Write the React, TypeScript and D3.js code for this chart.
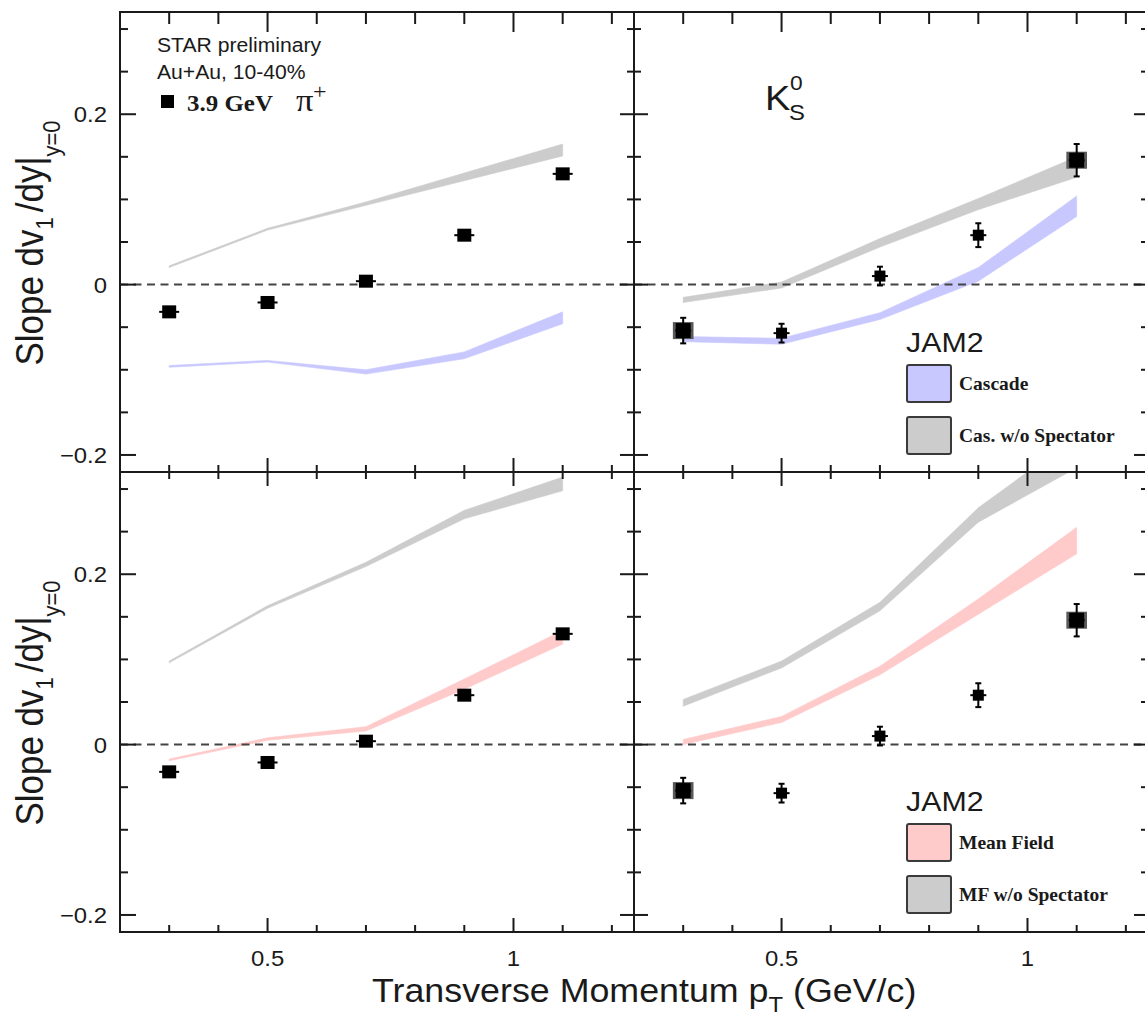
import React from "react";
import * as d3 from "d3";

// Transverse-momentum bin centres (GeV/c)
const pT = [0.3, 0.5, 0.7, 0.9, 1.1];

// Measured slopes dv1/dy at mid-rapidity
const piPlusV1 = [-0.032, -0.021, 0.004, 0.058, 0.13];
const piPlusErr = [0.002, 0.002, 0.002, 0.002, 0.002];
const k0sV1 = [-0.054, -0.057, 0.01, 0.058, 0.146];
const k0sErr = [0.015, 0.011, 0.011, 0.014, 0.019];
const k0sSys = [0.01, 0, 0, 0, 0.01];

// JAM2 model bands (lower / upper edge)
const piCascadeLo = [-0.097, -0.091, -0.105, -0.087, -0.046];
const piCascadeHi = [-0.095, -0.089, -0.1, -0.079, -0.032];
const piCasNoSpecLo = [0.02, 0.064, 0.093, 0.122, 0.151];
const piCasNoSpecHi = [0.022, 0.066, 0.097, 0.131, 0.165];
const k0CascadeLo = [-0.067, -0.07, -0.041, 0.004, 0.08];
const k0CascadeHi = [-0.061, -0.063, -0.033, 0.02, 0.104];
const k0CasNoSpecLo = [-0.021, -0.004, 0.044, 0.088, 0.126];
const k0CasNoSpecHi = [-0.015, 0.003, 0.054, 0.101, 0.15];
const piMeanFieldLo = [-0.019, 0.005, 0.016, 0.065, 0.118];
const piMeanFieldHi = [-0.017, 0.008, 0.021, 0.077, 0.134];
const piMfNoSpecLo = [0.096, 0.16, 0.209, 0.265, 0.298];
const piMfNoSpecHi = [0.098, 0.163, 0.214, 0.275, 0.314];
const k0MeanFieldLo = [0.0, 0.026, 0.082, 0.153, 0.224];
const k0MeanFieldHi = [0.006, 0.033, 0.092, 0.171, 0.255];
const k0MfNoSpecLo = [0.045, 0.09, 0.157, 0.261, 0.325];
const k0MfNoSpecHi = [0.053, 0.098, 0.167, 0.278, 0.362];

// Axes
const xDomain = [0.2, 1.245];
const yDomain = [-0.22, 0.32];
const xTickValues = d3.range(3, 13).map((v) => v / 10);
const xMajorTicks = [0.5, 1.0];
const xTickLabels = ["0.5", "1"];
const yTickValues = d3.range(-4, 7).map((v) => v * 0.05);
const yMajorTicks = [-0.2, 0, 0.2];
const yTickLabels = ["\u22120.2", "0", "0.2"];

// Legend entries
const cascadeLegend = ["Cascade", "Cas. w/o Spectator"];
const meanFieldLegend = ["Mean Field", "MF w/o Spectator"];

const BLUE = "#c8c8ff";
const GREY = "#cccccc";
const PINK = "#ffcaca";
const INK = "#1a1a1a";
const SANS = "'Liberation Sans', Arial, Helvetica, sans-serif";
const SERIF = "'Liberation Serif', 'Times New Roman', serif";
const SX = 1.085; // horizontal text stretch

type Band = { lo: number[]; hi: number[]; fill: string };
type Panel = {
  id: string;
  x0: number;
  x1: number;
  y0: number;
  y1: number;
  bands: Band[];
  species: "pi" | "k0";
  yLabels: boolean;
  xLabels: boolean;
  topRow: boolean;
};

const LEFT = [120, 634];
const RIGHT = [634, 1148];
const TOP = [12, 472];
const BOTTOM = [472, 932];

const panels: Panel[] = [
  {
    id: "tl", x0: LEFT[0], x1: LEFT[1], y0: TOP[0], y1: TOP[1],
    bands: [
      { lo: piCasNoSpecLo, hi: piCasNoSpecHi, fill: GREY },
      { lo: piCascadeLo, hi: piCascadeHi, fill: BLUE },
    ],
    species: "pi", yLabels: true, xLabels: false, topRow: true,
  },
  {
    id: "tr", x0: RIGHT[0], x1: RIGHT[1], y0: TOP[0], y1: TOP[1],
    bands: [
      { lo: k0CasNoSpecLo, hi: k0CasNoSpecHi, fill: GREY },
      { lo: k0CascadeLo, hi: k0CascadeHi, fill: BLUE },
    ],
    species: "k0", yLabels: false, xLabels: false, topRow: true,
  },
  {
    id: "bl", x0: LEFT[0], x1: LEFT[1], y0: BOTTOM[0], y1: BOTTOM[1],
    bands: [
      { lo: piMfNoSpecLo, hi: piMfNoSpecHi, fill: GREY },
      { lo: piMeanFieldLo, hi: piMeanFieldHi, fill: PINK },
    ],
    species: "pi", yLabels: true, xLabels: true, topRow: false,
  },
  {
    id: "br", x0: RIGHT[0], x1: RIGHT[1], y0: BOTTOM[0], y1: BOTTOM[1],
    bands: [
      { lo: k0MfNoSpecLo, hi: k0MfNoSpecHi, fill: GREY },
      { lo: k0MeanFieldLo, hi: k0MeanFieldHi, fill: PINK },
    ],
    species: "k0", yLabels: false, xLabels: true, topRow: false,
  },
];

const near = (a: number, b: number) => Math.abs(a - b) < 1e-6;

function STxt(props: {
  x: number; y: number; size: number; family?: string; weight?: string | number;
  anchor?: string; children: React.ReactNode;
}) {
  const { x, y, size, family = SANS, weight = "normal", anchor = "start", children } = props;
  return (
    <text
      transform={`translate(${x},${y}) scale(${SX},1)`}
      fontSize={size}
      fontFamily={family}
      fontWeight={weight}
      textAnchor={anchor}
      fill={INK}
    >
      {children}
    </text>
  );
}

function PanelView({ p }: { p: Panel }) {
  const xS = d3.scaleLinear().domain(xDomain).range([p.x0, p.x1]);
  const yS = d3.scaleLinear().domain(yDomain).range([p.y1, p.y0]);
  const area = (b: Band) =>
    d3
      .area<number>()
      .x((d) => xS(d))
      .y0((_, i) => yS(b.lo[i]))
      .y1((_, i) => yS(b.hi[i]))(pT) || "";

  const values = p.species === "pi" ? piPlusV1 : k0sV1;
  const errs = p.species === "pi" ? piPlusErr : k0sErr;

  const ticks: React.ReactNode[] = [];
  xTickValues.forEach((v, i) => {
    const major = xMajorTicks.some((m) => near(m, v));
    const x = xS(v);
    const lb = major ? 14 : 7;
    const lt = p.topRow ? (major ? 20 : 12) : lb;
    ticks.push(<line key={`xb${i}`} x1={x} x2={x} y1={p.y1} y2={p.y1 - lb} />);
    ticks.push(<line key={`xt${i}`} x1={x} x2={x} y1={p.y0} y2={p.y0 + lt} />);
  });
  yTickValues.forEach((v, i) => {
    const major = yMajorTicks.some((m) => near(m, v));
    const y = yS(v);
    const ll = p.yLabels ? (major ? 16 : 8) : major ? 14 : 7;
    const lr = major ? 14 : 7;
    ticks.push(<line key={`yl${i}`} x1={p.x0} x2={p.x0 + ll} y1={y} y2={y} />);
    ticks.push(<line key={`yr${i}`} x1={p.x1} x2={p.x1 - lr} y1={y} y2={y} />);
  });

  return (
    <g>
      <defs>
        <clipPath id={`clip-${p.id}`}>
          <rect x={p.x0} y={p.y0} width={p.x1 - p.x0} height={p.y1 - p.y0} />
        </clipPath>
      </defs>
      <g clipPath={`url(#clip-${p.id})`}>
        {p.bands.map((b, i) => (
          <path key={i} d={area(b)} fill={b.fill} stroke={b.fill} strokeWidth={0.6} />
        ))}
        <line
          x1={p.x0}
          x2={p.x1}
          y1={yS(0)}
          y2={yS(0)}
          stroke="#444"
          strokeWidth={2}
          strokeDasharray="8,5.5"
        />
        {pT.map((pt, i) => {
          const x = xS(pt);
          const y = yS(values[i]);
          if (p.species === "pi") {
            return (
              <g key={i} stroke="#000" strokeWidth={2}>
                <line x1={x - 10} x2={x + 10} y1={y} y2={y} />
                <line x1={x} x2={x} y1={yS(values[i] + errs[i])} y2={yS(values[i] - errs[i])} />
                <rect x={x - 7} y={y - 6.5} width={14} height={13} fill="#000" stroke="none" />
              </g>
            );
          }
          const big = k0sSys[i] > 0;
          const yt = yS(values[i] + errs[i]);
          const yb = yS(values[i] - errs[i]);
          const ms = big ? 15 : 11;
          return (
            <g key={i} stroke="#000" strokeWidth={2}>
              {big && (
                <rect
                  x={xS(pt - 0.021)}
                  y={yS(values[i] + k0sSys[i])}
                  width={xS(pt + 0.021) - xS(pt - 0.021)}
                  height={yS(values[i] - k0sSys[i]) - yS(values[i] + k0sSys[i])}
                  fill="#5a5a5a"
                  stroke="none"
                />
              )}
              <line x1={x} x2={x} y1={yt} y2={yb} />
              <line x1={x - 3} x2={x + 3} y1={yt} y2={yt} />
              <line x1={x - 3} x2={x + 3} y1={yb} y2={yb} />
              <line x1={x - 8} x2={x + 8} y1={y} y2={y} />
              <rect x={x - ms / 2} y={y - ms / 2} width={ms} height={ms} fill="#000" stroke="none" />
            </g>
          );
        })}
      </g>
      <g stroke={INK} strokeWidth={2}>{ticks}</g>
      <rect
        x={p.x0}
        y={p.y0}
        width={p.x1 - p.x0}
        height={p.y1 - p.y0}
        fill="none"
        stroke={INK}
        strokeWidth={2}
      />
      {p.yLabels &&
        yMajorTicks.map((v, i) => (
          <STxt key={`yl${i}`} x={107} y={yS(v) + 8} size={22} anchor="end">
            {yTickLabels[i]}
          </STxt>
        ))}
      {p.xLabels &&
        xMajorTicks.map((v, i) => (
          <STxt key={`xl${i}`} x={xS(v)} y={966} size={22} anchor="middle">
            {xTickLabels[i]}
          </STxt>
        ))}
    </g>
  );
}

function Legend({ y, labels, fills }: { y: number; labels: string[]; fills: string[] }) {
  return (
    <g>
      <STxt x={906} y={y} size={28}>JAM2</STxt>
      {labels.map((lab, i) => {
        const top = y + 13 + i * 52;
        return (
          <g key={lab}>
            <rect
              x={907}
              y={top}
              width={44}
              height={37}
              rx={2}
              fill={fills[i]}
              stroke="#3a3a3a"
              strokeWidth={2}
            />
            <STxt x={959} y={top + 25} size={18} family={SERIF} weight="bold">
              {lab}
            </STxt>
          </g>
        );
      })}
    </g>
  );
}

function YTitle({ cy }: { cy: number }) {
  return (
    <text
      transform={`translate(43,${cy}) rotate(-90) scale(1,${SX})`}
      fontSize={35}
      fontFamily={SANS}
      textAnchor="middle"
      fill={INK}
    >
      Slope dv
      <tspan fontSize={22} dy={9}>1</tspan>
      <tspan fontSize={35} dy={-9} dx={5}>/dy|</tspan>
      <tspan fontSize={22} dy={16}>y=0</tspan>
    </text>
  );
}

export default function App() {
  return (
    <div style={{ position: "absolute", left: 0, top: 0 }}>
      <svg width={1145} height={1018} style={{ display: "block", background: "#fff" }}>
        {panels.map((p) => (
          <PanelView key={p.id} p={p} />
        ))}

        {/* header of the pi+ panel */}
        <STxt x={157} y={52} size={19.5}>STAR preliminary</STxt>
        <STxt x={157} y={79} size={19.5}>Au+Au, 10-40%</STxt>
        <rect x={161} y={95} width={13} height={13} fill="#000" />
        <STxt x={187} y={111} size={23} family={SERIF} weight="bold">3.9 GeV</STxt>
        <STxt x={296} y={111} size={32} family={SERIF}>{"\u03c0"}</STxt>
        <STxt x={313} y={99} size={22} family={SERIF}>+</STxt>

        {/* K0S label */}
        <STxt x={765} y={110} size={35}>K</STxt>
        <STxt x={790} y={90} size={21}>0</STxt>
        <STxt x={789} y={120} size={22}>S</STxt>

        <Legend y={352} labels={cascadeLegend} fills={[BLUE, GREY]} />
        <Legend y={811} labels={meanFieldLegend} fills={[PINK, GREY]} />

        <YTitle cy={243} />
        <YTitle cy={703} />

        <text
          transform={`translate(372,1002) scale(${SX},1)`}
          fontSize={33}
          fontFamily={SANS}
          fill={INK}
        >
          Transverse Momentum p
          <tspan fontSize={22} dy={10}>T</tspan>
          <tspan fontSize={33} dy={-10}>{" (GeV/c)"}</tspan>
        </text>
      </svg>
    </div>
  );
}
